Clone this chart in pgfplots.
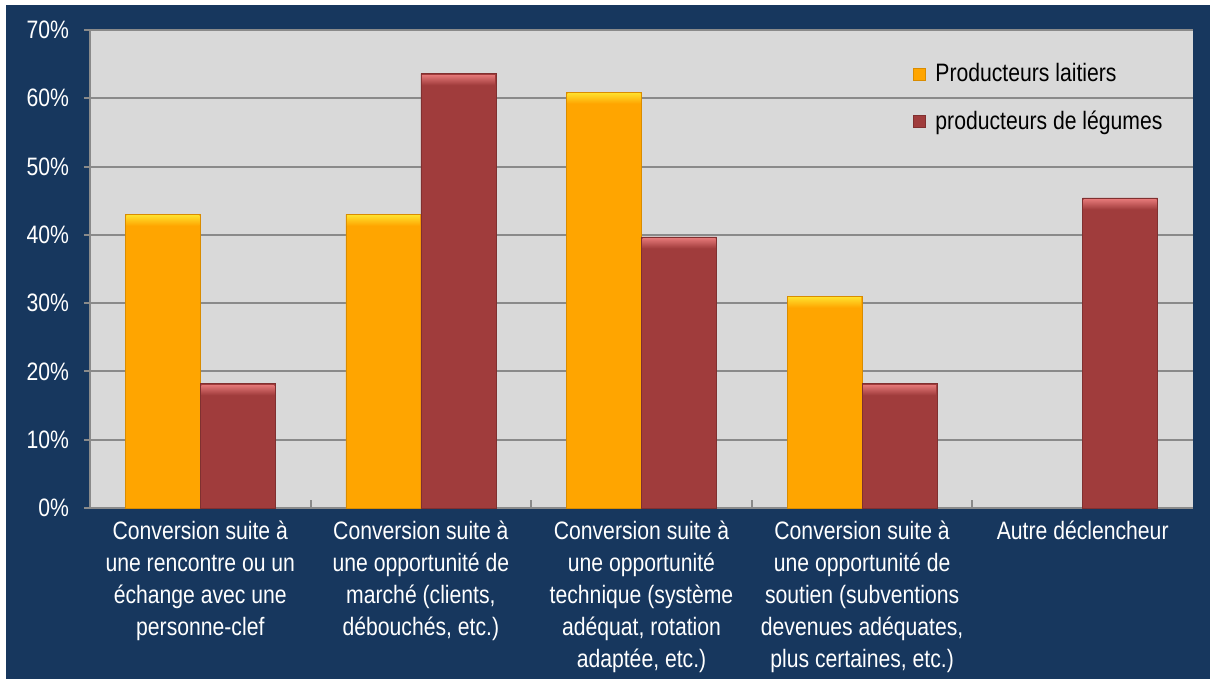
\documentclass[border=0pt]{standalone}
\usepackage{pgfplots}
\pgfplotsset{compat=1.18}
\usepackage{fontspec}
\setmainfont{Liberation Sans}[FakeStretch=0.84]
\definecolor{navy}{HTML}{17375E}
\definecolor{plotbg}{HTML}{D9D9D9}
\definecolor{gridc}{HTML}{8A8A8A}
\definecolor{lait}{HTML}{FFA500}
\definecolor{laittop}{HTML}{FFDC2A}
\definecolor{leg}{HTML}{A03C3C}
\definecolor{legtop}{HTML}{E27676}
\begin{document}
\begin{tikzpicture}
% page and dark frame
\fill[white] (-45pt,-85.5pt) rectangle (560pt,254pt);
\fill[navy] (-42pt,-85.5pt) rectangle (560pt,251.5pt);
\begin{axis}[
  scale only axis,
  width=551.5pt, height=239pt,
  ybar=0pt, bar width=37.5pt,
  ymin=0, ymax=70, ytick={0,10,...,70},
  xmin=-0.5, xmax=4.5,
  xtick={0,1,2,3,4},
  xticklabels={
    {Conversion suite à\\une rencontre ou un\\échange avec une\\personne-clef},
    {Conversion suite à\\une opportunité de\\marché (clients,\\débouchés, etc.)},
    {Conversion suite à\\une opportunité\\technique (système\\adéquat, rotation\\adaptée, etc.)},
    {Conversion suite à\\une opportunité de\\soutien (subventions\\devenues adéquates,\\plus certaines, etc.)},
    {Autre déclencheur}},
  x tick label style={white, align=center, font=\fontsize{12.6}{16}\selectfont},
  y tick label style={white, font=\fontsize{12.6}{14}\selectfont, xshift=-4pt},
  yticklabel={\pgfmathprintnumber{\tick}\%},
  /pgf/number format/assume math mode=true,
  axis background/.style={fill=plotbg},
  axis x line*=bottom, axis y line*=left,
  axis line style={gridc, line width=1pt},
  ymajorgrids, major grid style={gridc, line width=1pt},
  tick align=outside, major tick length=3pt,
  major x tick style={draw=none},
  y tick style={gridc, line width=1pt},
  legend style={at={(0.74,0.948)}, anchor=north west, draw=none, fill=none,
    font=\fontsize{12.6}{14}\selectfont, row sep=9pt, text=black},
  legend cell align=left,
  legend image code/.code={\fill[#1] (0pt,-3pt) rectangle (6pt,3pt); \path (9pt,0pt);},
  nodes near coords={},
]
\addplot[fill=lait, draw=lait!85!black,
  every node near coord/.append style={anchor=north, inner sep=0pt, minimum width=36.5pt,
    minimum height=5pt, top color=laittop, bottom color=lait, yshift=-0.5pt}]
  coordinates {(0,43.0) (1,43.0) (2,60.9) (3,31.0)};
\addlegendentry{Producteurs laitiers}
\addplot[fill=leg, draw=leg!80!black,
  every node near coord/.append style={anchor=north, inner sep=0pt, minimum width=36.5pt,
    minimum height=5pt, top color=legtop, bottom color=leg, yshift=-0.5pt}]
  coordinates {(0,18.2) (1,63.6) (2,39.7) (3,18.2) (4,45.4)};
\addlegendentry{producteurs de légumes}
\foreach \b in {0.5,1.5,2.5,3.5}{
  \edef\tmp{\noexpand\draw[gridc, line width=1pt] (axis cs:\b,0) -- ([yshift=4pt]axis cs:\b,0);}\tmp
}
\end{axis}
\end{tikzpicture}
\end{document}
